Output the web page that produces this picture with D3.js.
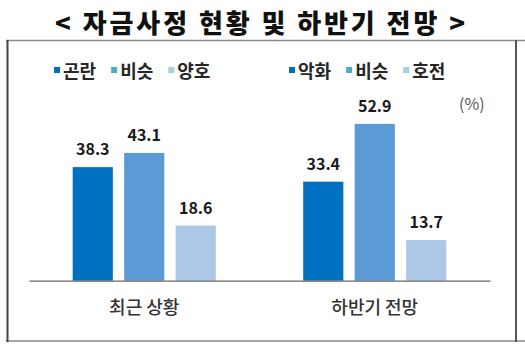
<!DOCTYPE html>
<html>
<head>
<meta charset="utf-8">
<script src="https://cdn.jsdelivr.net/npm/d3@7"></script>
<style>
  html, body { margin: 0; padding: 0; background: #fff; }
  svg { display: block; }
  text { font-family: "Noto Sans CJK KR", "Noto Sans", sans-serif; }
</style>
</head>
<body>
<svg id="chart" width="525" height="346"></svg>
<script>
// Survey results: funding conditions now and outlook for the second half (%)
const titleText = "< 자금사정 현황 및 하반기 전망 >";
const groups = ["최근 상황", "하반기 전망"];
const seriesKeys = ["s1", "s2", "s3"];
const legendNow = ["곤란", "비슷", "양호"];
const legendOutlook = ["악화", "비슷", "호전"];
const recentValues = [38.3, 43.1, 18.6];
const outlookValues = [33.4, 52.9, 13.7];
const unitLabel = "(%)";

const barColors = ["#0070C0", "#5B9BD5", "#ADC7E7"];
const legendColors = ["#0070C0", "#4BACC6", "#A6CFDD"];

const svg = d3.select("#chart");

// Title
svg.append("text")
  .attr("x", 260).attr("y", 33)
  .attr("text-anchor", "middle")
  .attr("font-size", 26).attr("font-weight", 900)
  .attr("fill", "#111")
  .attr("textLength", 410).attr("lengthAdjust", "spacing")
  .text(titleText);

// Frame around the chart area
const frame = svg.append("g");
frame.append("line").attr("x1", 6).attr("x2", 525).attr("y1", 40.5).attr("y2", 40.5)
  .attr("stroke", "#8a8a8a").attr("stroke-width", 1.5);
frame.append("line").attr("x1", 6).attr("x2", 525).attr("y1", 341).attr("y2", 341)
  .attr("stroke", "#a6a6a6").attr("stroke-width", 2);
frame.append("line").attr("x1", 7.5).attr("x2", 7.5).attr("y1", 40).attr("y2", 342)
  .attr("stroke", "#444").attr("stroke-width", 2);
frame.append("line").attr("x1", 516).attr("x2", 516).attr("y1", 40).attr("y2", 342)
  .attr("stroke", "#555").attr("stroke-width", 2);

// Scales
const x0 = d3.scaleBand().domain(groups).range([29, 490]).paddingInner(0.33).paddingOuter(0.165);
const x1 = d3.scaleBand().domain(seriesKeys).range([0, x0.bandwidth()]).paddingInner(0.22).paddingOuter(0.11);
const y = d3.scaleLinear().domain([0, 60]).range([280.7, 102.8]);

const data = [
  { group: groups[0], values: recentValues },
  { group: groups[1], values: outlookValues }
];

const gGroups = svg.append("g").selectAll("g").data(data).join("g")
  .attr("transform", d => `translate(${x0(d.group)},0)`);

gGroups.selectAll("rect")
  .data(d => d.values.map((v, i) => ({ key: seriesKeys[i], v, i })))
  .join("rect")
  .attr("x", d => x1(d.key))
  .attr("width", x1.bandwidth())
  .attr("y", d => y(d.v))
  .attr("height", d => y(0) - y(d.v))
  .attr("fill", d => barColors[d.i]);

gGroups.selectAll("text.val")
  .data(d => d.values.map((v, i) => ({ key: seriesKeys[i], v, i })))
  .join("text")
  .attr("class", "val")
  .attr("x", d => x1(d.key) + x1.bandwidth() / 2)
  .attr("y", d => y(d.v) - 12)
  .attr("text-anchor", "middle")
  .attr("font-size", 16).attr("font-weight", 700)
  .attr("fill", "#1a1a1a")
  .text(d => d.v.toFixed(1));

// Baseline axis
const xAxis = svg.append("g").attr("transform", `translate(0,${y(0)})`)
  .call(d3.axisBottom(x0).tickSize(0).tickPadding(21));
xAxis.select(".domain").attr("stroke", "#666").attr("stroke-width", 1.3);
xAxis.selectAll(".tick text")
  .attr("font-size", 18).attr("font-weight", 500)
  .attr("fill", "#333")
  .attr("font-family", "'Noto Sans CJK KR', sans-serif");

// Legends
function drawLegend(labels, startX, cy) {
  const g = svg.append("g");
  let cx = startX;
  labels.forEach((lab, i) => {
    g.append("rect").attr("x", cx).attr("y", cy - 2.5).attr("width", 6).attr("height", 6)
      .attr("fill", legendColors[i]);
    const t = g.append("text")
      .attr("x", cx + 9).attr("y", cy)
      .attr("dominant-baseline", "central")
      .attr("font-size", 18).attr("font-weight", 700)
      .attr("fill", "#262626")
      .text(lab);
    cx = cx + 9 + t.node().getComputedTextLength() + 15;
  });
}
drawLegend(legendNow, 54, 69.5);
drawLegend(legendOutlook, 289, 69.5);

// Unit
svg.append("text")
  .attr("x", 459).attr("y", 103)
  .attr("dominant-baseline", "central")
  .attr("font-size", 16).attr("fill", "#595959")
  .text(unitLabel);
</script>
</body>
</html>
